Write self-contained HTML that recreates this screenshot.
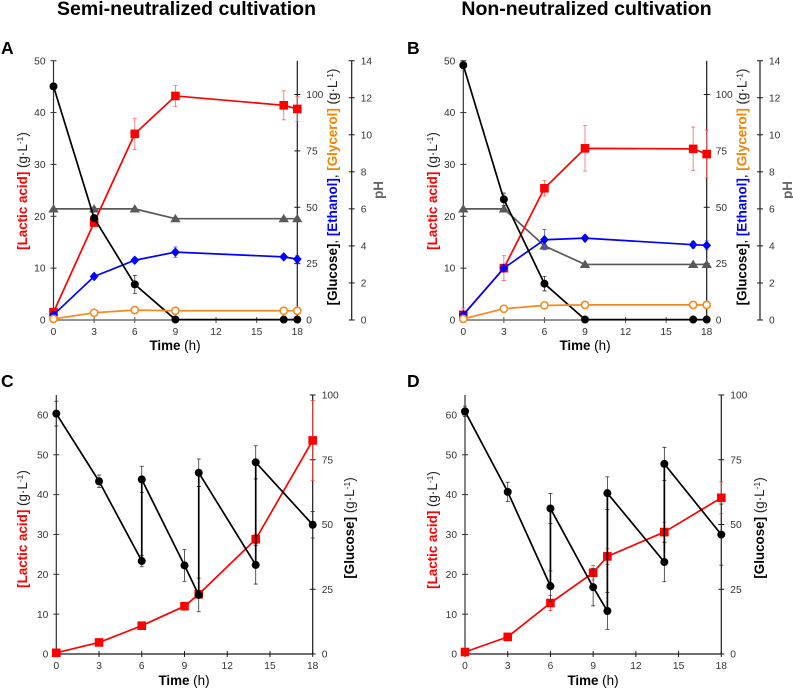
<!DOCTYPE html>
<html>
<head>
<meta charset="utf-8">
<style>
html,body{margin:0;padding:0;background:#fff;}
svg{display:block;font-family:"Liberation Sans",sans-serif;}
</style>
</head>
<body>
<svg id="figure" xmlns="http://www.w3.org/2000/svg" width="793" height="689" viewBox="0 0 793 689">
<text x="186.5" y="15" text-anchor="middle" font-size="19.5" font-weight="bold">Semi-neutralized cultivation</text>
<text x="586.5" y="15" text-anchor="middle" font-size="19.5" font-weight="bold">Non-neutralized cultivation</text>
<text x="1" y="54" font-size="17.5" font-weight="bold">A</text>
<text x="407" y="54" font-size="17.5" font-weight="bold">B</text>
<text x="1" y="387" font-size="17.5" font-weight="bold">C</text>
<text x="407" y="387" font-size="17.5" font-weight="bold">D</text>
<g id="axis-titles" font-weight="bold" font-size="13.4">
<text transform="translate(27,191) rotate(-90)" text-anchor="middle"><tspan fill="#f00">[Lactic acid]</tspan><tspan font-weight="normal" fill="#222"> (g·L</tspan><tspan font-weight="normal" fill="#222" font-size="8.5" dy="-4">-1</tspan><tspan font-weight="normal" fill="#222" dy="4">)</tspan></text>
<text transform="translate(337,187) rotate(-90)" text-anchor="middle"><tspan fill="#000">[Glucose]</tspan><tspan font-weight="normal">, </tspan><tspan fill="#00f">[Ethanol]</tspan><tspan font-weight="normal">, </tspan><tspan fill="#f58200">[Glycerol]</tspan><tspan font-weight="normal" fill="#222"> (g·L</tspan><tspan font-weight="normal" fill="#222" font-size="8.5" dy="-4">-1</tspan><tspan font-weight="normal" fill="#222" dy="4">)</tspan></text>
<text transform="translate(383,190) rotate(-90)" text-anchor="middle" fill="#666">pH</text>
<text x="175" y="350" text-anchor="middle">Time<tspan font-weight="normal"> (h)</tspan></text>
<text transform="translate(437,191) rotate(-90)" text-anchor="middle"><tspan fill="#f00">[Lactic acid]</tspan><tspan font-weight="normal" fill="#222"> (g·L</tspan><tspan font-weight="normal" fill="#222" font-size="8.5" dy="-4">-1</tspan><tspan font-weight="normal" fill="#222" dy="4">)</tspan></text>
<text transform="translate(746.5,187) rotate(-90)" text-anchor="middle"><tspan fill="#000">[Glucose]</tspan><tspan font-weight="normal">, </tspan><tspan fill="#00f">[Ethanol]</tspan><tspan font-weight="normal">, </tspan><tspan fill="#f58200">[Glycerol]</tspan><tspan font-weight="normal" fill="#222"> (g·L</tspan><tspan font-weight="normal" fill="#222" font-size="8.5" dy="-4">-1</tspan><tspan font-weight="normal" fill="#222" dy="4">)</tspan></text>
<text transform="translate(792,190) rotate(-90)" text-anchor="middle" fill="#666">pH</text>
<text x="585" y="350" text-anchor="middle">Time<tspan font-weight="normal"> (h)</tspan></text>
<text transform="translate(27,529) rotate(-90)" text-anchor="middle"><tspan fill="#f00">[Lactic acid]</tspan><tspan font-weight="normal" fill="#222"> (g·L</tspan><tspan font-weight="normal" fill="#222" font-size="8.5" dy="-4">-1</tspan><tspan font-weight="normal" fill="#222" dy="4">)</tspan></text>
<text transform="translate(354,528) rotate(-90)" text-anchor="middle"><tspan fill="#000">[Glucose]</tspan><tspan font-weight="normal" fill="#222"> (g·L</tspan><tspan font-weight="normal" fill="#222" font-size="8.5" dy="-4">-1</tspan><tspan font-weight="normal" fill="#222" dy="4">)</tspan></text>
<text x="184" y="685" text-anchor="middle">Time<tspan font-weight="normal"> (h)</tspan></text>
<text transform="translate(437,530) rotate(-90)" text-anchor="middle"><tspan fill="#f00">[Lactic acid]</tspan><tspan font-weight="normal" fill="#222"> (g·L</tspan><tspan font-weight="normal" fill="#222" font-size="8.5" dy="-4">-1</tspan><tspan font-weight="normal" fill="#222" dy="4">)</tspan></text>
<text transform="translate(764,528) rotate(-90)" text-anchor="middle"><tspan fill="#000">[Glucose]</tspan><tspan font-weight="normal" fill="#222"> (g·L</tspan><tspan font-weight="normal" fill="#222" font-size="8.5" dy="-4">-1</tspan><tspan font-weight="normal" fill="#222" dy="4">)</tspan></text>
<text x="593" y="685" text-anchor="middle">Time<tspan font-weight="normal"> (h)</tspan></text>
</g>
</svg>
<script>
const xTicksTop = [0, 3, 6, 9, 12, 15, 18];
const xTicksBottom = [0, 3, 6, 9, 12, 15, 18];
const leftTicksTop = [0, 10, 20, 30, 40, 50];
const rightTicksTop = [0, 25, 50, 75, 100];
const phTicks = [0, 2, 4, 6, 8, 10, 12, 14];
const leftTicksBottom = [0, 10, 20, 30, 40, 50, 60];
const rightTicksBottom = [0, 25, 50, 75, 100];

const topTimes = [0, 3, 6, 9, 17, 18];
const aLactic = [1.5, 18.8, 35.9, 43.2, 41.4, 40.7];
const aLacticErr = [0.5, 0.8, 3.0, 2.0, 2.8, 2.4];
const aEthanol = [2.3, 19.3, 26.5, 30.1, 28.0, 27.0];
const aEthanolErr = [0.5, 1.2, 1.2, 2.3, 1.2, 1.6];
const aGlycerol = [0.5, 3.2, 4.4, 4.1, 4.1, 4.1];
const aGlycerolErr = [0.1, 0.3, 0.3, 0.2, 0.2, 0.2];
const aGlucose = [103.6, 45.2, 15.8, 0.2, 0.2, 0.2];
const aGlucoseErr = [0.5, 1.0, 4.0, 0, 0, 0];
const aPh = [6.0, 6.0, 6.0, 5.47, 5.47, 5.47];

const bLactic = [1.0, 10.0, 25.4, 33.1, 33.0, 32.0];
const bLacticErr = [1.3, 2.4, 1.5, 4.4, 4.2, 4.6];
const bEthanol = [2.3, 23.0, 35.6, 36.3, 33.4, 33.1];
const bEthanolErr = [0.5, 1.5, 4.5, 1.3, 1.5, 2.0];
const bGlycerol = [0.5, 5.0, 6.5, 6.7, 6.7, 6.7];
const bGlycerolErr = [0.1, 0.3, 0.3, 0.2, 0.2, 0.2];
const bGlucose = [113.0, 53.5, 16.1, 0.2, 0.2, 0.2];
const bGlucoseErr = [1.5, 2.8, 3.2, 0, 0, 0];
const bPh = [6.0, 6.0, 4.0, 3.0, 3.0, 3.0];

const bottomTimes = [0, 3, 6, 9, 10, 14, 18];
const cLactic = [0.3, 2.9, 7.1, 12.0, 15.0, 28.8, 53.6];
const cLacticErr = [0.2, 0.2, 0.4, 0.5, 1.0, 1.2, 10.0];
const cFeedTimes = [0, 3, 6, 6, 9, 10, 10, 14, 14, 18];
const cGlucose = [92.8, 66.7, 35.9, 67.4, 34.2, 22.8, 70.0, 34.4, 74.0, 49.9];
const cGlucoseErr = [4.8, 2.4, 2.2, 5.1, 6.1, 6.5, 5.3, 7.4, 6.4, 5.1];

const dLactic = [0.5, 4.3, 12.8, 20.4, 24.5, 30.6, 39.2];
const dLacticErr = [0.2, 0.3, 1.9, 1.8, 2.0, 2.5, 4.0];
const dFeedTimes = [0, 3, 6, 6, 9, 10, 10, 14, 14, 18];
const dGlucose = [93.7, 62.6, 26.2, 56.2, 25.8, 16.6, 62.1, 35.5, 73.4, 46.1];
const dGlucoseErr = [2.0, 3.7, 5.9, 5.8, 7.2, 7.1, 6.3, 7.6, 6.4, 11.8];

const NS = 'http://www.w3.org/2000/svg';
const root = document.getElementById('figure');

function make(tag, attrs, parent) {
  const el = document.createElementNS(NS, tag);
  for (const k in attrs) el.setAttribute(k, attrs[k]);
  (parent || root).appendChild(el);
  return el;
}

function group(name, parent) {
  const g = make('g', {}, parent);
  
  
  return g;
}

function drawAxis(g, o) {
  const color = o.color || '#1a1a1a';
  const line = o.orient === 'x'
    ? make('line', {x1: o.from, x2: o.to, y1: o.pos, y2: o.pos, stroke: color, 'stroke-width': 1.2}, g)
    : make('line', {x1: o.pos, x2: o.pos, y1: o.from, y2: o.to, stroke: color, 'stroke-width': 1.2}, g);
  
  
  o.ticks.forEach(function (t) {
    const p = o.scale(t);
    const tick = o.orient === 'x'
      ? make('line', {x1: p, x2: p, y1: o.pos - 3, y2: o.pos + 3, stroke: color, 'stroke-width': 1}, g)
      : make('line', {x1: o.pos - 3, x2: o.pos + 3, y1: p, y2: p, stroke: color, 'stroke-width': 1}, g);
    
    
    let label;
    if (o.orient === 'x') {
      label = make('text', {x: p, y: o.pos + 15, 'text-anchor': 'middle', 'font-size': 10.2, fill: '#333'}, g);
    } else if (o.side === 'left') {
      label = make('text', {x: o.pos - 8, y: p + 3.6, 'text-anchor': 'end', 'font-size': 10.2, fill: '#333'}, g);
    } else {
      label = make('text', {x: o.pos + 9, y: p + 3.6, 'text-anchor': 'start', 'font-size': 10.2, fill: '#333'}, g);
    }
    label.textContent = t;
    
    
  });
}

function drawSeries(g, name, xs, ys, errs, xScale, yScale, color, errColor, marker) {
  if (errs) {
    xs.forEach(function (x, i) {
      if (!errs[i]) return;
      const px = xScale(x);
      const hi = yScale(ys[i] + errs[i]);
      const lo = yScale(ys[i] - errs[i]);
      const bar = make('path', {
        d: 'M' + px + ' ' + hi + 'V' + lo + 'M' + (px - 2) + ' ' + hi + 'H' + (px + 2) + 'M' + (px - 2) + ' ' + lo + 'H' + (px + 2),
        stroke: errColor, 'stroke-width': 0.8, fill: 'none'
      }, g);
      
      
    });
  }
  const pts = xs.map(function (x, i) { return xScale(x) + ',' + yScale(ys[i]); }).join(' ');
  const line = make('polyline', {points: pts, fill: 'none', stroke: color, 'stroke-width': 1.7, 'stroke-linejoin': 'round'}, g);
  
  
  xs.forEach(function (x, i) {
    const px = xScale(x), py = yScale(ys[i]);
    let m;
    if (marker === 'square') {
      m = make('rect', {x: px - 4.3, y: py - 4.3, width: 8.6, height: 8.6, fill: color}, g);
    } else if (marker === 'diamond') {
      m = make('path', {d: 'M' + px + ' ' + (py - 4.8) + 'L' + (px + 4.4) + ' ' + py + 'L' + px + ' ' + (py + 4.8) + 'L' + (px - 4.4) + ' ' + py + 'Z', fill: color}, g);
    } else if (marker === 'triangle') {
      m = make('path', {d: 'M' + px + ' ' + (py - 4.8) + 'L' + (px + 5.2) + ' ' + (py + 3.6) + 'L' + (px - 5.2) + ' ' + (py + 3.6) + 'Z', fill: color}, g);
    } else if (marker === 'open') {
      m = make('circle', {cx: px, cy: py, r: 3.6, fill: '#fff', stroke: color, 'stroke-width': 1.6}, g);
    } else {
      m = make('circle', {cx: px, cy: py, r: 4, fill: color}, g);
    }
    
    
  });
}

function linear(d0, d1, r0, r1) {
  return function (v) { return r0 + (v - d0) * (r1 - r0) / (d1 - d0); };
}

function drawTopPanel(id, x0, x18, phX, lactic, lacticErr, ethanol, ethanolErr, glycerol, glycerolErr, glucose, glucoseErr, ph) {
  const g = group('panel-' + id);
  const y0 = 320, yTop = 60.7;
  const xS = linear(0, 18, x0, x18);
  const leftS = linear(0, 50, y0, yTop);
  const rightS = linear(0, 115, y0, yTop);
  const phS = linear(0, 14, y0, yTop);
  drawAxis(g, {orient: 'x', pos: y0, from: x0, to: x18, ticks: xTicksTop, scale: xS, name: id + '-x-axis', color: '#555'});
  drawAxis(g, {orient: 'y', side: 'left', pos: x0, from: y0, to: yTop, ticks: leftTicksTop, scale: leftS, name: id + '-left-axis', color: '#333'});
  drawAxis(g, {orient: 'y', side: 'right', pos: x18, from: y0, to: yTop, ticks: rightTicksTop, scale: rightS, name: id + '-right-axis'});
  drawAxis(g, {orient: 'y', side: 'right', pos: phX, from: y0, to: yTop, ticks: phTicks, scale: phS, name: id + '-ph-axis'});
  drawSeries(g, id + '-ph', topTimes, ph, null, xS, phS, '#595959', '#595959', 'triangle');
  drawSeries(g, id + '-lactic-acid', topTimes, lactic, lacticErr, xS, leftS, '#f00', '#f66', 'square');
  drawSeries(g, id + '-ethanol', topTimes, ethanol, ethanolErr, xS, rightS, '#00f', '#55f', 'diamond');
  drawSeries(g, id + '-glucose', topTimes, glucose, glucoseErr, xS, rightS, '#000', '#333', 'circle');
  drawSeries(g, id + '-glycerol', topTimes, glycerol, glycerolErr, xS, rightS, '#f58a1f', '#f9a', 'open');
}

function drawBottomPanel(id, x0, x18, lactic, lacticErr, feedTimes, glucose, glucoseErr) {
  const g = group('panel-' + id);
  const y0 = 654, yTop = 395;
  const xS = linear(0, 18, x0, x18);
  const leftS = linear(0, 65, y0, yTop);
  const rightS = linear(0, 100, y0, yTop);
  drawAxis(g, {orient: 'x', pos: y0, from: x0, to: x18, ticks: xTicksBottom, scale: xS, name: id + '-x-axis'});
  drawAxis(g, {orient: 'y', side: 'left', pos: x0, from: y0, to: yTop, ticks: leftTicksBottom, scale: leftS, name: id + '-left-axis', color: '#333'});
  drawAxis(g, {orient: 'y', side: 'right', pos: x18, from: y0, to: yTop, ticks: rightTicksBottom, scale: rightS, name: id + '-right-axis'});
  drawSeries(g, id + '-lactic-acid', bottomTimes, lactic, lacticErr, xS, leftS, '#f00', '#f44', 'square');
  drawSeries(g, id + '-glucose', feedTimes, glucose, glucoseErr, xS, rightS, '#000', '#333', 'circle');
}

drawTopPanel('a', 53.5, 297.3, 351.7, aLactic, aLacticErr, aEthanol, aEthanolErr, aGlycerol, aGlycerolErr, aGlucose, aGlucoseErr, aPh);
drawTopPanel('b', 463.3, 706.7, 760, bLactic, bLacticErr, bEthanol, bEthanolErr, bGlycerol, bGlycerolErr, bGlucose, bGlucoseErr, bPh);
drawBottomPanel('c', 56.3, 312.7, cLactic, cLacticErr, cFeedTimes, cGlucose, cGlucoseErr);
drawBottomPanel('d', 465, 721.3, dLactic, dLacticErr, dFeedTimes, dGlucose, dGlucoseErr);
</script>
</body>
</html>
